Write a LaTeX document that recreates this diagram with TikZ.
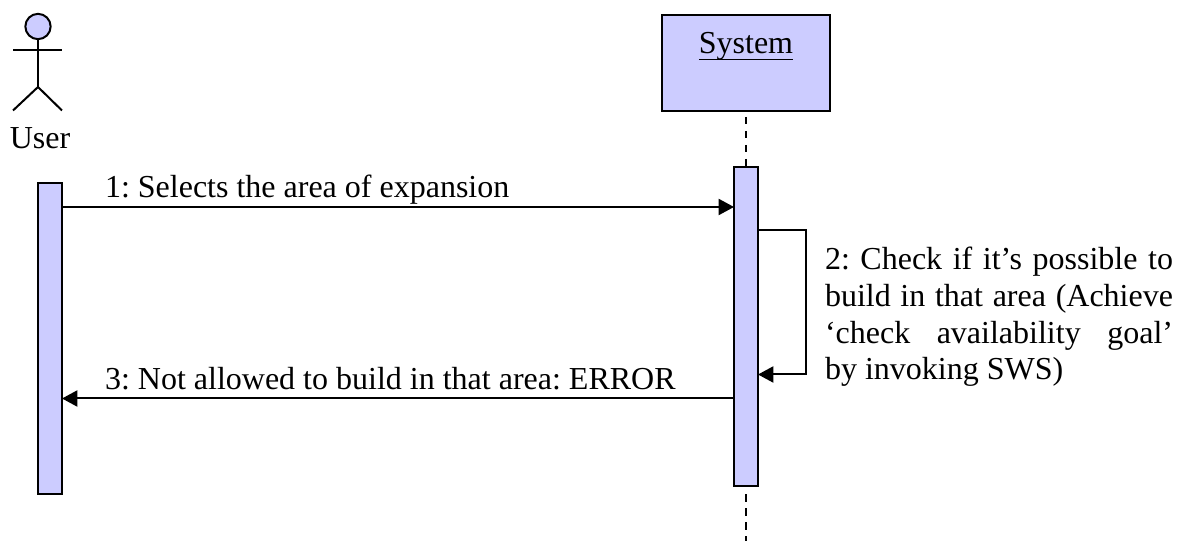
\documentclass[tikz,border=0pt]{standalone}
\usepackage{fontspec}
\setmainfont{Liberation Serif}
\usetikzlibrary{arrows.meta,calc}
\definecolor{umlfill}{RGB}{204,204,255}
\newcommand\thickul[1]{\setbox0\hbox{#1}\rlap{\rule[-4.8pt]{\wd0}{1.4pt}}\box0}
\tikzset{
  x=0.75pt,y=-0.75pt,
  umlbox/.style={draw=black,fill=umlfill,line width=1.5pt,inner sep=0pt,outer sep=0pt,anchor=north west},
  msg/.style={draw=black,line width=1.5pt,-{Triangle[length=11.5pt,width=12pt]}},
  lifeline/.style={draw=black,line width=1.5pt,dash pattern=on 5.5pt off 5pt},
  stick/.style={draw=black,line width=1.5pt},
  txt/.style={font=\fontsize{24pt}{27.6pt}\selectfont,inner sep=0pt,outer sep=0pt,text=black}
}
\begin{document}
\frenchspacing
\begin{tikzpicture}
\useasboundingbox (0,0) rectangle (1189,541);
% actor
\node[circle,draw=black,fill=umlfill,line width=1.5pt,minimum size=19pt,inner sep=0pt,outer sep=0pt] (head) at (38,26.5) {};
\coordinate (hip) at (38,87);
\coordinate (armL) at (13,50.5);
\coordinate (armR) at (62,50.5);
\coordinate (legL) at (13,110.5);
\coordinate (legR) at (62,110.5);
\draw[stick] (head.south) -- (hip);
\draw[stick] (armL) -- (armR);
\draw[stick] (legL) -- (hip) -- (legR);
\node[txt,anchor=base] (user) at (40,149) {User};
% system
\node[umlbox,minimum width=126pt,minimum height=72pt] (sys) at (662,15) {};
\node[txt,anchor=base] (systxt) at (746,54) {\thickul{System}};
% activations
\node[umlbox,minimum width=18pt,minimum height=233pt] (actU) at (38,183) {};
\node[umlbox,minimum width=18pt,minimum height=239.5pt] (actS) at (734,167) {};
\coordinate (end) at (746,541);
\draw[lifeline] (sys.south) ++(0,6) -- (actS.north);
\draw[lifeline] (actS.south) ++(0,8) -- (end);
% messages
\draw[msg] (actU.east |- 0,207) -- (actS.west |- 0,207);
\node[txt,anchor=base west] (m1) at (105,198) {1: Selects the area of expansion};
\draw[msg] (actS.east |- 0,230.5) -- (806,230.5) -- (806,374.5) -- (actS.east |- 0,374.5);
\draw[msg] (actS.west |- 0,398.5) -- (actU.east |- 0,398.5);
\node[txt,anchor=base west] (m3) at (105,390) {3: Not allowed to build in that area: ERROR};
\node[txt,anchor=base west,text width=261pt,align=justify] (m2) at (825,269.5)
 {2: Check if it’s possible to\linebreak build in that area (Achieve\linebreak ‘check availability goal’\linebreak by invoking SWS)};
\end{tikzpicture}
\end{document}
